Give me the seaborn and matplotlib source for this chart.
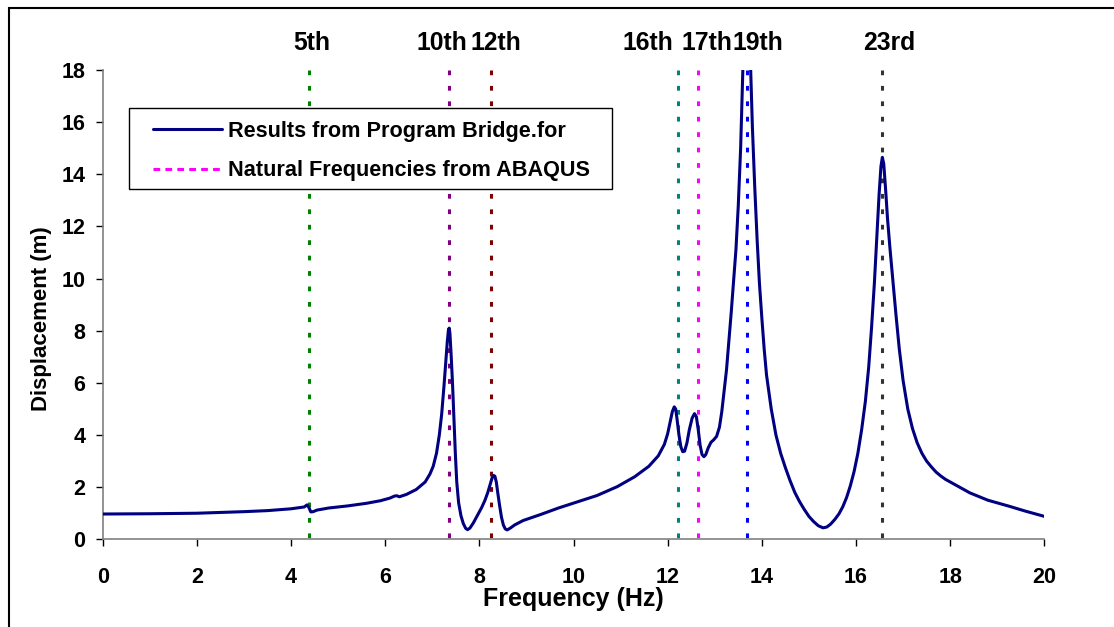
import matplotlib
matplotlib.use("Agg")
import matplotlib.pyplot as plt
from matplotlib.patches import Rectangle
from matplotlib.lines import Line2D
import seaborn as sns
import pandas as pd

# ---------------- data ----------------
freq = [0.0, 1.0, 2.0, 3.0, 3.5, 4.0, 4.2, 4.28, 4.34, 4.38, 4.42, 4.47, 4.55, 4.8,
        5.2, 5.6, 5.9, 6.1, 6.2, 6.25, 6.3, 6.45, 6.66, 6.85, 6.95, 7.02, 7.09, 7.15,
        7.2, 7.25, 7.29, 7.32, 7.345, 7.36, 7.375, 7.4, 7.43, 7.46, 7.49, 7.52, 7.56,
        7.61, 7.66, 7.71, 7.75, 7.8, 7.87, 7.94, 8.05, 8.12, 8.18, 8.23, 8.27, 8.3,
        8.33, 8.36, 8.39, 8.43, 8.47, 8.51, 8.55, 8.59, 8.65, 8.75, 8.93,
        9.3, 9.68, 10.14, 10.5, 10.93, 11.3, 11.6, 11.8, 11.93, 12.0, 12.06, 12.1,
        12.14, 12.17, 12.2, 12.24, 12.28, 12.32, 12.36, 12.41, 12.46, 12.52, 12.57,
        12.61, 12.65, 12.69, 12.73, 12.77, 12.81, 12.86, 12.92, 12.98, 13.04, 13.1,
        13.15, 13.2, 13.25, 13.3, 13.35, 13.4, 13.45, 13.5, 13.55, 13.6, 13.64, 13.68,
        13.72, 13.76, 13.8, 13.85, 13.9, 13.95, 14.0, 14.05, 14.1, 14.2, 14.3, 14.4,
        14.5, 14.6, 14.7, 14.8, 14.9, 15.0, 15.1, 15.2, 15.3, 15.38, 15.46, 15.55,
        15.64, 15.72, 15.8, 15.88, 15.96, 16.04, 16.12, 16.2, 16.27, 16.33, 16.39,
        16.44, 16.49, 16.53, 16.56, 16.59, 16.63, 16.67, 16.72, 16.78, 16.85, 16.92,
        17.0, 17.1, 17.2, 17.3, 17.4, 17.5, 17.6, 17.7, 17.8, 17.9, 18.0, 18.2,
        18.42, 18.8, 19.25, 19.6, 20.0]
displacement = [0.97, 0.98, 1.00, 1.06, 1.10, 1.17, 1.22, 1.24, 1.32, 1.22, 1.05, 1.06,
                1.12, 1.20, 1.28, 1.38, 1.48, 1.58, 1.66, 1.67, 1.63, 1.72, 1.91, 2.2,
                2.5, 2.8, 3.3, 4.0, 4.8, 5.9, 6.9, 7.6, 8.05, 8.1, 7.9, 7.1, 6.0, 4.6,
                3.3, 2.2, 1.4, 0.9, 0.6, 0.42, 0.37, 0.43, 0.62, 0.85, 1.22, 1.5, 1.8,
                2.1, 2.35, 2.45, 2.42, 2.2, 1.8, 1.3, 0.85, 0.55, 0.4, 0.36, 0.42, 0.55,
                0.72, 0.95, 1.2, 1.47, 1.68, 2.02, 2.4, 2.8, 3.2, 3.64, 4.05, 4.55, 4.9,
                5.08, 5.0, 4.6, 4.0, 3.55, 3.36, 3.38, 3.7, 4.2, 4.65, 4.82, 4.7, 4.2,
                3.6, 3.25, 3.17, 3.25, 3.5, 3.72, 3.82, 3.95, 4.3, 4.9, 5.7, 6.5, 7.6,
                8.7, 9.9, 11.1, 12.8, 15.0, 18.2, 21.0, 22.0, 21.0, 18.2, 15.8, 13.5,
                11.5, 9.8, 8.5, 7.3, 6.3, 5.0, 4.0, 3.3, 2.75, 2.25, 1.8, 1.45, 1.15,
                0.88, 0.68, 0.52, 0.44, 0.47, 0.58, 0.76, 0.98, 1.25, 1.6, 2.05, 2.6,
                3.3, 4.2, 5.3, 6.6, 8.1, 9.8, 11.5, 13.2, 14.3, 14.65, 14.4, 13.4, 12.3,
                11.2, 10.0, 8.6, 7.3, 6.1, 5.0, 4.25, 3.7, 3.3, 3.0, 2.78, 2.58, 2.43,
                2.3, 2.2, 2.0, 1.78, 1.5, 1.27, 1.08, 0.88]

mode_labels = ["5th", "10th", "12th", "16th", "17th", "19th", "23rd"]
mode_freqs = [4.39, 7.36, 8.25, 12.22, 12.65, 13.69, 16.56]
mode_label_x = [4.44, 7.21, 8.35, 11.58, 12.83, 13.91, 16.71]

x_ticks = [0, 2, 4, 6, 8, 10, 12, 14, 16, 18, 20]
y_ticks = [0, 2, 4, 6, 8, 10, 12, 14, 16, 18]

series_labels = ["Results from Program Bridge.for", "Natural Frequencies from ABAQUS"]

# ---------------- style ----------------
mode_colors = ["#008000", "#800080", "#800000", "#008080", "#FF00FF", "#0000FF", "#333333"]
curve_color = "#000080"

sns.set_style("white")
plt.rcParams["font.family"] = ["Liberation Sans", "DejaVu Sans"]
plt.rcParams["font.weight"] = "bold"
for key in ["text.color", "axes.labelcolor", "xtick.color", "ytick.color"]:
    plt.rcParams[key] = "black"

W, H = 1114, 627
fig = plt.figure(figsize=(W / 100, H / 100), dpi=100)
ax = fig.add_axes([102.7 / W, 1 - 539.3 / H, (1044.3 - 102.7) / W, (539.3 - 70) / H])

df = pd.DataFrame({"Frequency": freq, "Displacement": displacement})
sns.lineplot(data=df, x="Frequency", y="Displacement", ax=ax, color=curve_color,
             linewidth=2.2, sort=False, estimator=None, zorder=3)

for f, c in zip(mode_freqs, mode_colors):
    ax.plot([f, f], [18, 0], color=c, linewidth=2.2, dashes=(1.55, 3.5),
            solid_capstyle="butt", dash_capstyle="butt", zorder=2)

for lab, lx in zip(mode_labels, mode_label_x):
    ax.text(lx, 19.04, lab, ha="center", va="center", fontsize=17.8,
            fontweight="bold", color="black", clip_on=False)

ax.set_xlim(0, 20)
ax.set_ylim(0, 18)
ax.set_xticks(x_ticks)
ax.set_yticks(y_ticks)
ax.set_xticklabels([str(t) for t in x_ticks], fontsize=15.5, fontweight="bold")
ax.set_yticklabels([str(t) for t in y_ticks], fontsize=15.5, fontweight="bold")
ax.tick_params(axis="x", direction="out", length=5, width=1, color="black",
               labelcolor="black", pad=15, bottom=True)
ax.tick_params(axis="y", direction="out", length=5, width=1, color="black",
               labelcolor="black", pad=7.5, left=True)

ax.set_xlabel("Frequency (Hz)", fontsize=18, fontweight="bold", color="black", labelpad=-1)
ax.set_ylabel("Displacement (m)", fontsize=16, fontweight="bold", color="black")
ax.yaxis.set_label_coords(-(102.7 - 52) / (1044.3 - 102.7), (539.3 - 319) / (539.3 - 70))

for s in ["top", "right"]:
    ax.spines[s].set_visible(False)
for s in ["left", "bottom"]:
    ax.spines[s].set_color("#808080")
    ax.spines[s].set_linewidth(1.2)

# legend
handles = [Line2D([], [], color=curve_color, linewidth=2.2),
           Line2D([], [], color="#FF00FF", linewidth=2.2, dashes=(2.2, 1.7),
                  dash_capstyle="butt")]
px2ax_x = lambda px: (px - 102.7) / (1044.3 - 102.7)
px2ax_y = lambda py: (539.3 - py) / (539.3 - 70)
ax.add_patch(Rectangle((px2ax_x(129), px2ax_y(189)), px2ax_x(612) - px2ax_x(129),
                       px2ax_y(107.7) - px2ax_y(189), transform=ax.transAxes,
                       facecolor="white", edgecolor="black", linewidth=1.0, zorder=4,
                       clip_on=False))
leg = ax.legend(handles, series_labels, loc="upper left",
                bbox_to_anchor=(px2ax_x(153), px2ax_y(121)), frameon=False,
                prop={"size": 15.6, "weight": "bold"}, handlelength=3.2,
                handletextpad=0.25, borderpad=0, borderaxespad=0, labelspacing=0.85)
leg.set_zorder(5)
for t in leg.get_texts():
    t.set_color("black")

# figure border
fig.patches.append(Rectangle((9.2 / W, -0.2), 2.0, 1 - 7.7 / H + 0.2,
                             transform=fig.transFigure, fill=False,
                             edgecolor="black", linewidth=1.5))

fig.savefig("out.png", dpi=100)
